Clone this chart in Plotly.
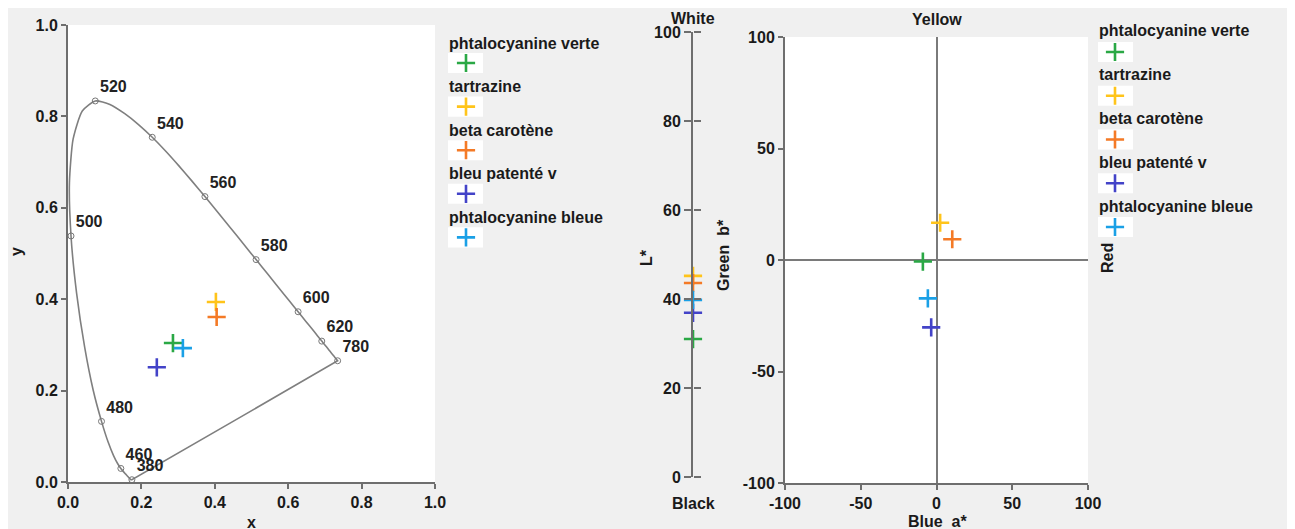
import plotly.graph_objects as go

W, H = 1295, 529
PAGE_PAD = 8  # default body margin of the page around the figure

# samples
SAMPLES = ["phtalocyanine verte", "tartrazine", "beta carotène",
           "bleu patenté v", "phtalocyanine bleue"]
COLORS = ["#2aa845", "#ffc41a", "#f47a26", "#4343c8", "#1aa0e6"]

# CIE 1931 chromaticity of the samples
CIE_X = [0.286, 0.403, 0.405, 0.242, 0.313]
CIE_Y = [0.304, 0.394, 0.361, 0.251, 0.293]

# CIELAB
L_STAR = [31.0, 45.2, 43.6, 36.9, 39.8]
A_STAR = [-9.0, 2.4, 10.4, -3.5, -5.7]
B_STAR = [-0.7, 16.7, 9.3, -30.2, -17.2]

# tick labels of the a*b* plane (plain hyphen minus)
AB_TICKS = [-100, -50, 0, 50, 100]
AB_TICKTEXT = ["-100", "-50", "0", "50", "100"]

# spectral locus (CIE 1931 2 deg)
LOCUS_WL = [380, 385, 390, 395, 400, 405, 410, 415, 420, 425, 430, 435, 440,
            445, 450, 455, 460, 465, 470, 475, 480, 485, 490, 495, 500, 505,
            510, 515, 520, 525, 530, 535, 540, 545, 550, 555, 560, 565, 570,
            575, 580, 585, 590, 595, 600, 605, 610, 615, 620, 625, 630, 635,
            640, 645, 650, 655, 660, 665, 670, 680, 690, 700, 780]
LOCUS_X = [0.1741, 0.1740, 0.1738, 0.1736, 0.1733, 0.1730, 0.1726, 0.1721,
           0.1714, 0.1703, 0.1689, 0.1669, 0.1644, 0.1611, 0.1566, 0.1510,
           0.1440, 0.1355, 0.1241, 0.1096, 0.0913, 0.0687, 0.0454, 0.0235,
           0.0082, 0.0039, 0.0139, 0.0389, 0.0743, 0.1142, 0.1547, 0.1929,
           0.2296, 0.2658, 0.3016, 0.3373, 0.3731, 0.4087, 0.4441, 0.4788,
           0.5125, 0.5448, 0.5752, 0.6029, 0.6270, 0.6482, 0.6658, 0.6801,
           0.6915, 0.7006, 0.7079, 0.7140, 0.7190, 0.7230, 0.7260, 0.7283,
           0.7300, 0.7311, 0.7320, 0.7334, 0.7344, 0.7347, 0.7347]
LOCUS_Y = [0.0050, 0.0050, 0.0049, 0.0049, 0.0048, 0.0048, 0.0048, 0.0048,
           0.0051, 0.0058, 0.0069, 0.0086, 0.0109, 0.0138, 0.0177, 0.0227,
           0.0297, 0.0399, 0.0578, 0.0868, 0.1327, 0.2007, 0.2950, 0.4127,
           0.5384, 0.6548, 0.7502, 0.8120, 0.8338, 0.8262, 0.8059, 0.7816,
           0.7543, 0.7243, 0.6923, 0.6589, 0.6245, 0.5896, 0.5547, 0.5202,
           0.4866, 0.4544, 0.4242, 0.3965, 0.3725, 0.3514, 0.3340, 0.3197,
           0.3083, 0.2993, 0.2920, 0.2859, 0.2809, 0.2770, 0.2740, 0.2717,
           0.2700, 0.2689, 0.2680, 0.2666, 0.2656, 0.2653, 0.2653]
LABEL_WL = [380, 460, 480, 500, 520, 540, 560, 580, 600, 620, 780]


def px(x):
    return (x - PAGE_PAD) / W


def py(y):
    return 1 - (y - PAGE_PAD) / H


FONT = dict(family="Liberation Sans", size=16, color="#1a1a1a", weight="bold")
AXCOL = "#6e6e6e"
axis_style = dict(showline=True, linecolor=AXCOL, linewidth=2, ticks="outside",
                  tickcolor=AXCOL, tickwidth=1.5, ticklen=5, tickfont=FONT,
                  showgrid=False, zeroline=False, fixedrange=True,
                  automargin=False)
hidden = dict(visible=False, fixedrange=True, automargin=False)

cross = dict(symbol="cross-thin", size=13, line=dict(width=2.6, color=COLORS),
             color=COLORS)

fig = go.Figure()

# chromaticity diagram
fig.add_trace(go.Scatter(x=LOCUS_X + LOCUS_X[:1], y=LOCUS_Y + LOCUS_Y[:1],
                         mode="lines",
                         line=dict(color="#7f7f7f", width=1.6, shape="spline",
                                   smoothing=0.6),
                         hoverinfo="skip", xaxis="x", yaxis="y"))
lab_x = [LOCUS_X[LOCUS_WL.index(w)] for w in LABEL_WL]
lab_y = [LOCUS_Y[LOCUS_WL.index(w)] for w in LABEL_WL]
fig.add_trace(go.Scatter(x=lab_x, y=lab_y, mode="markers+text",
                         text=[str(w) for w in LABEL_WL],
                         textposition="top right", cliponaxis=False,
                         textfont=dict(family="Liberation Sans", size=16,
                                       color="#222222", weight="bold"),
                         marker=dict(symbol="circle-open", size=6,
                                     color="#777777", line=dict(width=1)),
                         xaxis="x", yaxis="y"))
fig.add_trace(go.Scatter(x=CIE_X, y=CIE_Y, mode="markers", marker=cross,
                         text=SAMPLES, cliponaxis=False, xaxis="x", yaxis="y"))

# L* scale
fig.add_trace(go.Scatter(x=[0] * len(L_STAR), y=L_STAR, mode="markers",
                         marker=cross, text=SAMPLES, cliponaxis=False,
                         xaxis="x2", yaxis="y2"))
fig.add_trace(go.Scatter(x=[0], y=[0], mode="markers", marker=dict(opacity=0),
                         hoverinfo="skip", xaxis="x2", yaxis="y6"))

# a* b* plane
fig.add_trace(go.Scatter(x=A_STAR, y=B_STAR, mode="markers", marker=cross,
                         text=SAMPLES, cliponaxis=False,
                         xaxis="x3", yaxis="y3"))

# legends
rows = list(range(len(SAMPLES)))
fig.add_trace(go.Scatter(x=[19] * len(rows), y=rows, mode="markers",
                         marker=cross, cliponaxis=False, hoverinfo="skip",
                         xaxis="x4", yaxis="y4"))
fig.add_trace(go.Scatter(x=[18] * len(rows), y=rows, mode="markers",
                         marker=cross, cliponaxis=False, hoverinfo="skip",
                         xaxis="x5", yaxis="y5"))

shapes = [
    dict(type="rect", xref="x domain", yref="y domain", x0=0, x1=1, y0=0, y1=1,
         fillcolor="white", line_width=0, layer="below"),
    dict(type="rect", xref="x3 domain", yref="y3 domain", x0=0, x1=1, y0=0,
         y1=1, fillcolor="white", line_width=0, layer="below"),
    dict(type="rect", xref="paper", yref="paper", x0=px(1289), x1=1, y0=0,
         y1=1, fillcolor="white", line_width=0, layer="above"),
]
annotations = []
for ax, shift in (("4", 20), ("5", 21)):
    for i, name in enumerate(SAMPLES):
        shapes.append(dict(type="rect", xref="x" + ax, yref="y" + ax, x0=1,
                           x1=36, y0=i - 0.23, y1=i + 0.23, fillcolor="white",
                           line_width=0, layer="below"))
        annotations.append(dict(text=name, xref="x" + ax, yref="y" + ax, x=0,
                                y=i, yshift=shift, xanchor="left",
                                yanchor="middle", showarrow=False, font=FONT))


def label(text, x, y, angle=0):
    annotations.append(dict(text=text, xref="paper", yref="paper", x=px(x),
                            y=py(y), xanchor="center", yanchor="middle",
                            showarrow=False, textangle=angle, font=FONT))


label("x", 251, 522)
label("y", 17, 252, -90)
label("White", 693, 19)
label("Black", 693, 503)
label("L*", 646, 258, -90)
label("Green  b*", 723, 255, -90)
label("Yellow", 937, 20)
label("Blue  a*", 937, 521)
label("Red", 1107, 258, -90)

fig.update_layout(
    width=W, height=H, autosize=False,
    margin=dict(l=0, r=0, t=0, b=0, pad=0),
    paper_bgcolor="#f0f0f0", plot_bgcolor="#f0f0f0",
    showlegend=False, shapes=shapes, annotations=annotations,
    xaxis=dict(axis_style, domain=[px(68), px(435)], range=[0, 1], dtick=0.2,
               tickformat=".1f", anchor="y"),
    yaxis=dict(axis_style, domain=[py(482), py(25)], range=[0, 1], dtick=0.2,
               tickformat=".1f", anchor="x"),
    xaxis2=dict(hidden, domain=[px(693), px(703)], range=[0, 1], anchor="y2"),
    yaxis2=dict(axis_style, domain=[py(477), py(32)], range=[0, 100], dtick=20,
                anchor="x2", ticklen=7),
    yaxis6=dict(axis_style, range=[0, 100], dtick=20, overlaying="y2",
                side="right", anchor="free", position=px(693), ticklen=7,
                showline=False, showticklabels=False),
    xaxis3=dict(axis_style, domain=[px(785), px(1088)], range=[-100, 100],
                tickvals=AB_TICKS, ticktext=AB_TICKTEXT, anchor="y3",
                zeroline=True, zerolinecolor="#7a7a7a", zerolinewidth=1.6),
    yaxis3=dict(axis_style, domain=[py(483), py(37)], range=[-100, 100],
                tickvals=AB_TICKS, ticktext=AB_TICKTEXT, anchor="x3",
                zeroline=True, zerolinecolor="#7a7a7a", zerolinewidth=1.6),
    xaxis4=dict(hidden, domain=[px(447), px(487)], range=[0, 40], anchor="y4"),
    yaxis4=dict(hidden, domain=[py(259.2), py(41.2)], range=[4.5, -0.5],
                anchor="x4"),
    xaxis5=dict(hidden, domain=[px(1097), px(1137)], range=[0, 40],
                anchor="y5"),
    yaxis5=dict(hidden, domain=[py(248.9), py(30.1)], range=[4.5, -0.5],
                anchor="x5"),
)

fig.write_html("out.html")
